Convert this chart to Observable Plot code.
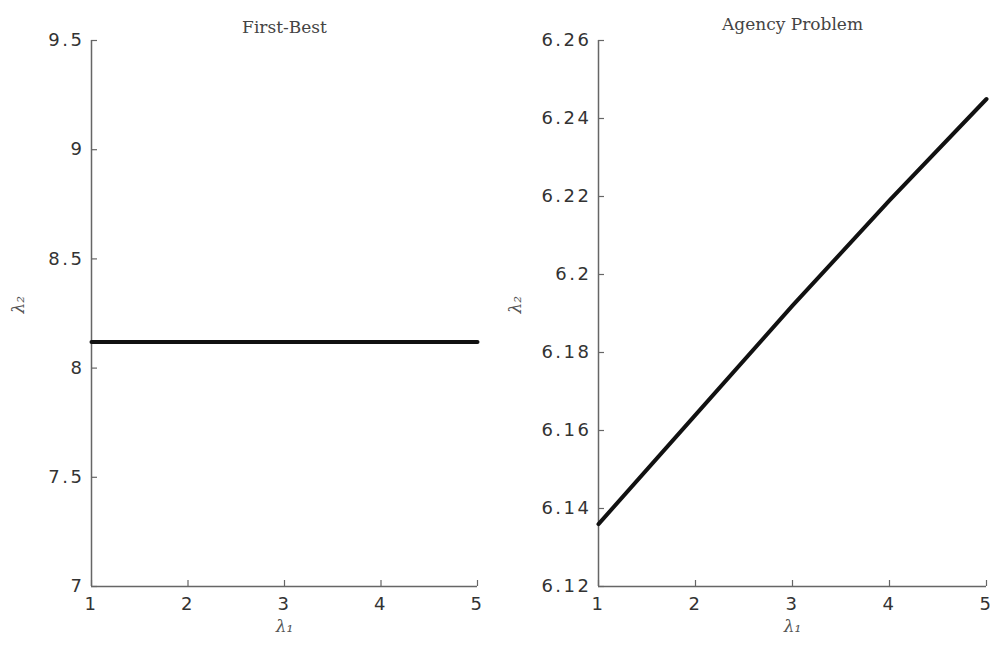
<!DOCTYPE html>
<html>
<head>
<meta charset="utf-8">
<script src="https://cdn.jsdelivr.net/npm/d3@7"></script>
<script src="https://cdn.jsdelivr.net/npm/@observablehq/plot@0.6"></script>
<style>
  html, body { margin: 0; padding: 0; background: #fff; }
  #wrap { display: flex; width: 997px; height: 645px; }
  svg { display: block; }
  svg g[aria-label$="tick label"] text { letter-spacing: 2.5px; }
  svg g[aria-label="title"] text { letter-spacing: 1.5px; }
</style>
</head>
<body>
<div id="wrap"></div>
<script>
const lambda1 = [1, 2, 3, 4, 5];
const firstBest = [8.12, 8.12, 8.12, 8.12, 8.12];
const agency = [6.136, 6.164, 6.192, 6.219, 6.245];
const xTicks = [1, 2, 3, 4, 5];
const yTicksLeft = [7, 7.5, 8, 8.5, 9, 9.5];
const yTicksRight = [6.12, 6.14, 6.16, 6.18, 6.2, 6.22, 6.24, 6.26];
const titles = ["First-Best", "Agency Problem"];

const axisColor = "#666";
const tickFont = "DejaVu Sans, Liberation Sans, sans-serif";
const serif = "DejaVu Serif, Liberation Serif, serif";
const fmt = d => String(d);
const H = 645, MT = 40, MB = 59, TICK = 6;

function panel({width, marginLeft, marginRight, yDomain, yTicks, values, title, yLabelOffset, titleDy}) {
  const data = lambda1.map((x, i) => ({x, y: values[i]}));
  const fw = width - marginLeft - marginRight;
  const fh = H - MT - MB;
  return Plot.plot({
    width, height: H,
    marginLeft, marginRight, marginTop: MT, marginBottom: MB,
    style: {fontFamily: tickFont, fontSize: "18px", color: "#333", background: "#fff"},
    x: {domain: [1, 5]},
    y: {domain: yDomain},
    marks: [
      Plot.ruleX([1], {stroke: axisColor, strokeWidth: 1.5}),
      Plot.ruleY([yDomain[0]], {stroke: axisColor, strokeWidth: 1.5}),
      Plot.ruleX(xTicks, {x: d => d, insetTop: fh - TICK, stroke: axisColor, strokeWidth: 1.2}),
      Plot.ruleY(yTicks, {y: d => d, insetRight: fw - TICK, stroke: axisColor, strokeWidth: 1.2}),
      Plot.axisX({ticks: xTicks, tickSize: 0, tickPadding: 11, tickFormat: fmt, fill: "#333", label: null}),
      Plot.axisY({ticks: yTicks, tickSize: 0, tickPadding: 7, tickFormat: fmt, fill: "#333", label: null}),
      Plot.text(["λ₁"], {frameAnchor: "bottom", dy: 45, fontFamily: serif, fontStyle: "italic", fontSize: 17, fill: "#555"}),
      Plot.text(["λ₂"], {frameAnchor: "left", dx: -yLabelOffset, rotate: -90, fontFamily: serif, fontStyle: "italic", fontSize: 17, fill: "#555"}),
      Plot.text([title], {frameAnchor: "top", dy: titleDy, fontFamily: serif, fontSize: 17, fill: "#444", ariaLabel: "title"}),
      Plot.line(data, {x: "x", y: "y", stroke: "#111", strokeWidth: 4})
    ]
  });
}

const wrap = document.getElementById("wrap");
wrap.append(panel({width: 500, marginLeft: 91, marginRight: 23, yDomain: [7, 9.5], yTicks: yTicksLeft,
  values: firstBest, title: titles[0], yLabelOffset: 73, titleDy: -20}));
wrap.append(panel({width: 497, marginLeft: 98, marginRight: 11, yDomain: [6.12, 6.26], yTicks: yTicksRight,
  values: agency, title: titles[1], yLabelOffset: 83, titleDy: -23}));
</script>
</body>
</html>
